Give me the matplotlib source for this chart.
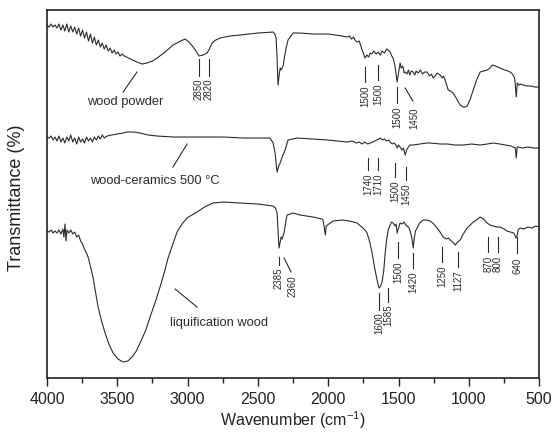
import numpy as np
import matplotlib
matplotlib.use('Agg')
import matplotlib.pyplot as plt

plt.rcParams['font.family'] = ['Liberation Sans', 'DejaVu Sans']
plt.rcParams['mathtext.fontset'] = 'custom'
plt.rcParams['mathtext.rm'] = 'Liberation Sans'
plt.rcParams['mathtext.default'] = 'regular'

# espectre 1: wood powder (nombre d'ona, transmitancia en unitats arbitraries)
w_pols = [4000, 3985, 3971, 3957, 3943, 3929, 3915, 3901, 3887, 3873, 3859, 3845, 3831, 3817,
          3803, 3789, 3775, 3761, 3747, 3733, 3719, 3705, 3691, 3677, 3663, 3649, 3635, 3621,
          3607, 3593, 3579, 3565, 3551, 3537, 3523, 3509, 3495, 3481, 3467, 3450, 3420, 3390,
          3360, 3324, 3290, 3250, 3217, 3160, 3104, 3050, 3018, 2990, 2961, 2935, 2919, 2890,
          2862, 2845, 2826, 2800, 2769, 2700, 2627, 2500, 2392, 2380, 2371, 2364, 2357, 2350,
          2342, 2335, 2321, 2310, 2300, 2286, 2250, 2200, 2108, 2000, 1950, 1900, 1866, 1850,
          1835, 1820, 1810, 1795, 1780, 1770, 1759, 1748, 1738, 1725, 1712, 1702, 1690, 1675,
          1660, 1645, 1630, 1617, 1600, 1585, 1574, 1560, 1548, 1539, 1525, 1510, 1500, 1489,
          1482, 1470, 1460, 1453, 1440, 1430, 1420, 1410, 1396, 1385, 1375, 1360, 1345, 1330,
          1315, 1297, 1280, 1265, 1254, 1240, 1225, 1204, 1190, 1180, 1169, 1160, 1147, 1130,
          1112, 1090, 1075, 1062, 1050, 1041, 1025, 1012, 990, 969, 945, 920, 895, 870, 850,
          834, 810, 777, 745, 720, 706, 690, 675, 671, 663, 656, 645, 630, 614, 590, 560, 530,
          500]
t_pols = [353, 351, 354, 351, 353, 350, 354, 348, 353, 347, 354, 346, 352, 346,
          351, 344, 350, 342, 348, 340, 346, 337, 344, 335, 341, 333, 338, 331,
          335, 329, 333, 327, 330, 325, 328, 324, 326, 322, 324, 322, 320, 318,
          316, 314, 315, 317, 320, 326, 333, 337, 339, 336, 331, 326, 322, 323,
          325, 329, 335, 338, 340, 342, 343, 345, 346, 344, 340, 320, 293, 302,
          310, 308, 312, 322, 330, 338, 345, 345, 344, 344, 343, 342, 341, 342,
          339, 341, 338, 336, 337, 333, 328, 324, 320, 323, 321, 325, 324, 327,
          324, 326, 323, 327, 325, 329, 328, 326, 322, 320, 312, 296, 305, 315,
          310, 312, 305, 306, 304, 308, 303, 307, 306, 303, 307, 305, 308, 304,
          306, 306, 302, 304, 300, 302, 305, 303, 300, 302, 298, 294, 288, 287,
          285, 280, 276, 273, 272, 271, 271, 272, 279, 288, 298, 306, 307, 308, 310,
          313, 312, 310, 308, 307, 306, 304, 300, 295, 281, 295, 293, 294, 293, 292, 292, 291,
          291]

# espectre 2: wood-ceramics 500 C
w_cer = [4000, 3985, 3971, 3957, 3943, 3929, 3915, 3901, 3887, 3873, 3859, 3845, 3831, 3817,
         3803, 3789, 3775, 3761, 3747, 3733, 3719, 3705, 3691, 3677, 3663, 3649, 3635, 3621,
         3607, 3593, 3573, 3540, 3500, 3460, 3431, 3380, 3338, 3280, 3217, 3100, 2983, 2860,
         2748, 2600, 2414, 2392, 2378, 2364, 2352, 2342, 2325, 2307, 2286, 2221, 2108, 2000,
         1866, 1830, 1800, 1780, 1760, 1740, 1720, 1702, 1685, 1670, 1655, 1640, 1631, 1615,
         1600, 1585, 1570, 1560, 1545, 1530, 1515, 1510, 1500, 1489, 1475, 1465, 1453, 1440,
         1420, 1396, 1350, 1300, 1275, 1200, 1150, 1100, 1041, 980, 920, 870, 827, 780, 740,
         700, 685, 670, 663, 656, 649, 620, 580, 540, 500]
t_cer = [241, 240, 242, 238, 241, 237, 242, 236, 240, 235, 241, 237, 243, 236,
         240, 234, 241, 236, 239, 235, 241, 237, 240, 236, 241, 238, 242, 239,
         243, 240, 242, 243, 244, 245, 246, 246, 245, 243, 242, 241, 241, 241,
         241, 240, 240, 235, 225, 206, 212, 215, 222, 228, 238, 240, 239, 238,
         236, 237, 235, 236, 234, 236, 234, 235, 236, 237, 238, 239, 240, 238,
         239, 237, 238, 236, 234, 235, 232, 230, 233, 231, 228, 230, 223, 229,
         233, 233, 234, 235, 235, 234, 234, 233, 233, 234, 233, 234, 235, 234, 233,
         232, 231, 230, 220, 231, 231, 230, 231, 230, 230]

# espectre 3: liquification wood
w_liq = [4000, 3985, 3971, 3957, 3943, 3929, 3915, 3901, 3887, 3880, 3872, 3865, 3858, 3845,
         3831, 3817, 3803, 3789, 3775, 3761, 3751, 3740, 3730, 3720, 3708, 3695, 3685, 3673,
         3655, 3637, 3612, 3587, 3560, 3530, 3495, 3459, 3425, 3395, 3365, 3338, 3300, 3267,
         3230, 3196, 3165, 3139, 3105, 3075, 3040, 3004, 2970, 2933, 2880, 2819, 2748, 2627,
         2500, 2392, 2375, 2364, 2357, 2350, 2342, 2335, 2328, 2320, 2314, 2300, 2293, 2250,
         2200, 2108, 2045, 2037, 2029, 2020, 2015, 1965, 1900, 1850, 1820, 1795, 1770, 1745,
         1724, 1705, 1688, 1670, 1652, 1645, 1638, 1628, 1617, 1605, 1595, 1585, 1574, 1560,
         1550, 1539, 1525, 1517, 1510, 1500, 1489, 1475, 1460, 1450, 1439, 1425, 1410, 1403,
         1396, 1388, 1380, 1368, 1350, 1325, 1300, 1275, 1250, 1226, 1205, 1183, 1160, 1145,
         1133, 1115, 1097, 1080, 1062, 1040, 1012, 990, 969, 945, 920, 895, 870, 850, 830,
         800, 777, 750, 730, 706, 680, 665, 656, 650, 635, 610, 580, 550, 525, 500]
t_liq = [147, 146, 148, 145, 147, 145, 148, 144, 149, 141, 154, 137, 148, 145,
         148, 144, 146, 141, 143, 137, 135, 131, 128, 125, 121, 114, 108, 101,
         86, 71, 57, 45, 34, 25, 19, 16, 17, 21, 27, 35, 47, 61,
         76, 91, 106, 120, 134, 146, 154, 160, 163, 166, 171, 175, 176, 175,
         174, 172, 170, 165, 148, 130, 136, 141, 139, 143, 145, 158, 163, 165,
         163, 161, 159, 158, 151, 143, 152, 157, 158, 157, 156, 155, 152, 149,
         145, 136, 125, 110, 98, 93, 90, 92, 96, 108, 125, 138, 148, 153,
         156, 155, 152, 154, 145, 150, 155, 154, 156, 153, 152, 150, 143, 138,
         130, 140, 147, 150, 155, 158, 158, 157, 154, 150, 146, 141, 139, 140,
         138, 136, 133, 136, 138, 144, 150, 153, 156, 158, 161, 159, 155, 153, 152,
         151, 151, 149, 147, 146, 145, 140, 143, 148, 150, 149, 151, 150, 152, 151]

# etiquetes de les bandes: text, nombre d'ona, inici i final de la linia, part de dalt del text
bandes = [('2850', 2919, 319, 302, 300), ('2820', 2848, 319, 302, 300),
          ('1500', 1738, 311, 296, 293), ('1500', 1645, 313, 298, 295),
          ('1500', 1510, 291, 275, 272),
          ('1740', 1718, 220, 208, 205), ('1710', 1645, 220, 208, 205),
          ('1500', 1522, 215, 201, 198), ('1450', 1447, 211, 198, 195),
          ('2385', 2350, 121, 113, 111),
          ('1600', 1638, 85, 68, 66), ('1585', 1574, 90, 76, 74),
          ('1500', 1503, 136, 120, 117), ('1420', 1396, 125, 110, 107),
          ('1250', 1190, 131, 116, 113), ('1127', 1076, 126, 111, 108),
          ('870', 863, 141, 126, 122), ('800', 792, 141, 126, 122),
          ('640', 656, 141, 125, 120)]
# etiquetes amb linia inclinada: text, x text, dalt text, (x0, y0), (x1, y1)
bandes_incl = [('1450', 1389, 271, (1453, 290), (1398, 277)),
               ('2360', 2257, 103, (2314, 120), (2264, 106))]
# noms de les mostres: text, x, y, linia (x0, y0, x1, y1)
noms = [('wood powder', 3715, 276, (3360, 306, 3459, 286)),
        ('wood-ceramics 500 °C', 3694, 197, (3004, 234, 3104, 211)),
        ('liquification wood', 3125, 55, (3089, 89, 2933, 71))]

fig = plt.figure(figsize=(5.53, 4.36), dpi=100)
ax = fig.add_axes([0.085, 0.133, 0.890, 0.844])

col = '#2b2b2b'
ax.plot(w_pols, t_pols, color=col, lw=0.8)       # wood powder
ax.plot(w_cer, t_cer, color=col, lw=0.8)         # wood-ceramics
ax.plot(w_liq, t_liq, color=col, lw=0.8)         # liquification wood

for txt, x, y0, y1, yt in bandes:
    ax.plot([x, x], [y0, y1], color=col, lw=0.8)
    ax.text(x, yt, txt, rotation=90, ha='center', va='top', fontsize=7, color=col)
for txt, xt, yt, p0, p1 in bandes_incl:
    ax.plot([p0[0], p1[0]], [p0[1], p1[1]], color=col, lw=0.8)
    ax.text(xt, yt, txt, rotation=90, ha='center', va='top', fontsize=7, color=col)
for txt, x, y, ln in noms:
    ax.plot([ln[0], ln[2]], [ln[1], ln[3]], color=col, lw=0.8)
    ax.text(x, y, txt, ha='left', va='center', fontsize=9.3, color=col)

ax.set_xlim(4000, 500)
ax.set_ylim(0, 368)
ax.set_xticks(np.arange(500, 4001, 500))
ax.set_xticks(np.arange(500, 4001, 250), minor=True)
ax.set_yticks([])
ax.tick_params(axis='x', which='major', direction='out', length=6, width=1, pad=4,
               labelsize=11.5, colors='#222')
ax.tick_params(axis='x', which='minor', direction='out', length=3.5, width=1, colors='#222')
for s in ax.spines.values():
    s.set_linewidth(1.2)
    s.set_color('#222')

ax.set_xlabel('Wavenumber (cm$^{-1}$)', fontsize=11.5, labelpad=2, color='#222')
ax.set_ylabel('Transmittance (%)', fontsize=13, color='#222')
ax.yaxis.set_label_coords(-0.045, 0.49)

fig.savefig('out.png', dpi=100)
